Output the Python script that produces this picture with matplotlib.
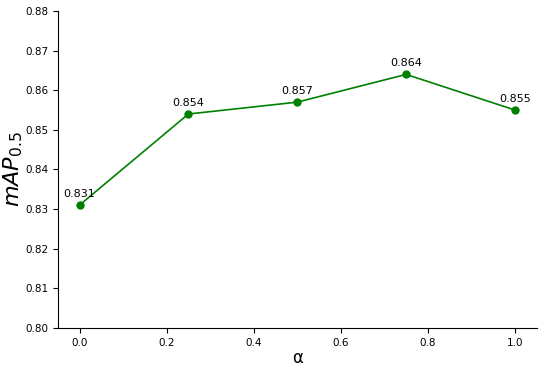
import matplotlib
matplotlib.use("Agg")
import matplotlib.pyplot as plt

alpha = [0.0, 0.25, 0.5, 0.75, 1.0]
map50 = [0.831, 0.854, 0.857, 0.864, 0.855]
labels = ["0.831", "0.854", "0.857", "0.864", "0.855"]

fig, ax = plt.subplots(figsize=(5.5, 3.68), dpi=100)
fig.subplots_adjust(left=0.105, right=0.976, top=0.970, bottom=0.109)

ax.plot(alpha, map50, color="green", marker="o", markersize=5, linewidth=1.2)
for x, y, t in zip(alpha, map50, labels):
    ax.annotate(t, (x, y), textcoords="offset points", xytext=(0, 6),
                ha="center", fontsize=8)

ax.set_ylim(0.80, 0.88)
ax.set_xlim(-0.05, 1.05)
ax.tick_params(labelsize=7.5)
ax.set_xlabel("α", fontsize=12, labelpad=1)
ax.set_ylabel("$mAP_{0.5}$", fontsize=16, labelpad=0)
ax.spines["top"].set_visible(False)
ax.spines["right"].set_visible(False)

plt.savefig("out.png")
